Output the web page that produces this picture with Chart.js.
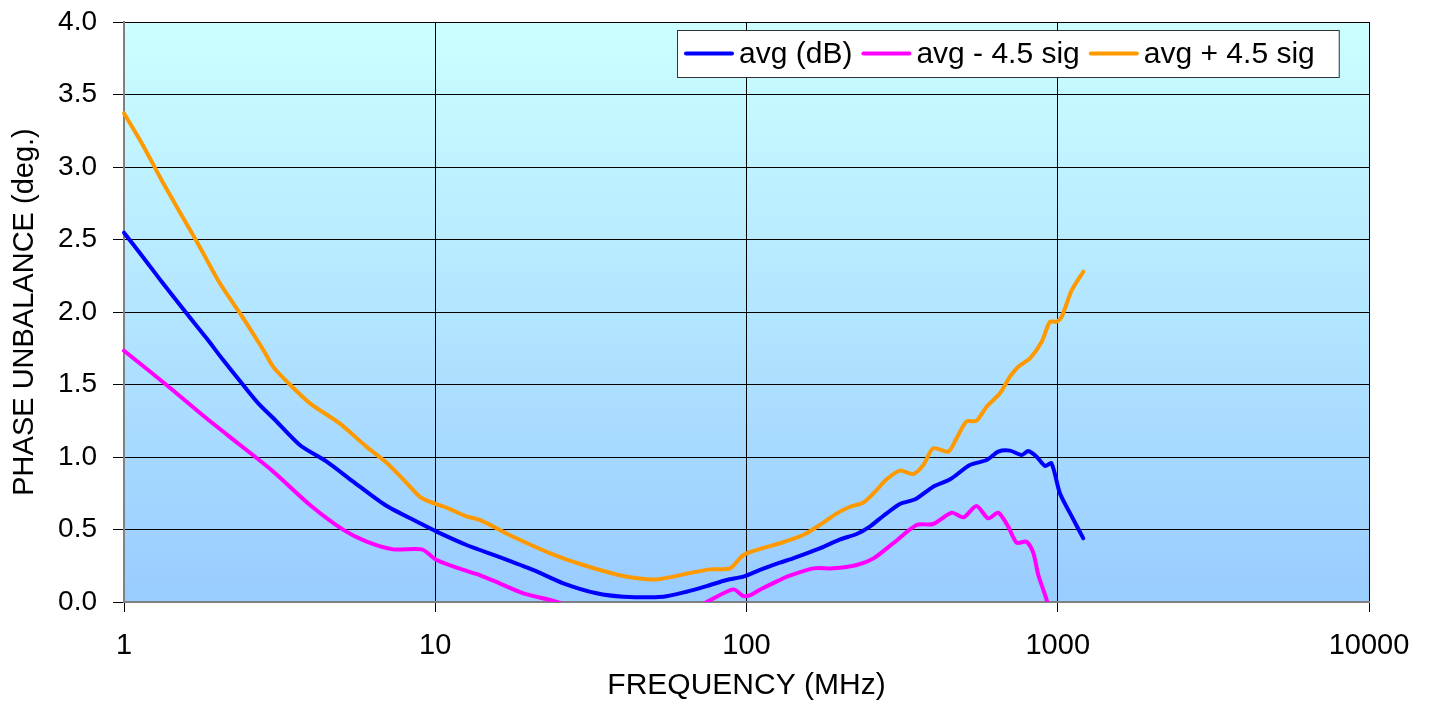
<!DOCTYPE html>
<html>
<head>
<meta charset="utf-8">
<script src="https://cdn.jsdelivr.net/npm/chart.js@4.4.1/dist/chart.umd.min.js"></script>
<style>
  html, body { margin: 0; padding: 0; background: #ffffff; }
  #wrap { width: 1435px; height: 704px; }
</style>
</head>
<body>
<div id="wrap"><canvas id="c" width="1435" height="704"></canvas></div>
<script>
// ---- Data ----
const seriesLabels = ['avg (dB)', 'avg - 4.5 sig', 'avg + 4.5 sig'];
const xTickValues = [1, 10, 100, 1000, 10000];
const yTickValues = [0, 0.5, 1.0, 1.5, 2.0, 2.5, 3.0, 3.5, 4.0];

const avgFreq = [1, 1.15, 1.32, 1.59, 1.84, 2.08, 2.39, 2.70, 3.02, 3.67, 4.48, 5.45, 6.9, 8.93, 10.1, 12.6, 16.1, 20.7, 25.8, 33, 40.2, 54, 64.2, 74.5, 86.4, 97.7, 110, 128, 141, 172, 200, 226, 249, 275, 311, 348, 398, 451, 522, 591, 644, 702, 766, 804, 855, 910, 955, 1016, 1110, 1208];
const avgVals = [2.547, 2.38, 2.21, 1.99, 1.82, 1.67, 1.508, 1.37, 1.267, 1.083, 0.968, 0.83, 0.669, 0.543, 0.485, 0.393, 0.31, 0.22, 0.129, 0.06, 0.037, 0.037, 0.071, 0.11, 0.152, 0.175, 0.22, 0.271, 0.301, 0.37, 0.432, 0.469, 0.52, 0.593, 0.676, 0.708, 0.795, 0.846, 0.945, 0.979, 1.037, 1.044, 1.014, 1.041, 1.002, 0.938, 0.956, 0.75, 0.589, 0.439];

const lowFreq = [1, 1.37, 1.84, 2.36, 3.02, 3.96, 5.07, 6.02, 7.33, 9.06, 10.1, 12.6, 13.9, 16.1, 19.2, 24.6, 33, 45, 60, 74.5, 90.7, 97.7, 103, 110, 128, 135, 164, 190, 226, 256, 296, 352, 398, 456, 498, 548, 598, 644, 693, 738, 794, 834, 866, 899, 921, 940];
const lowVals = [1.733, 1.497, 1.267, 1.083, 0.899, 0.669, 0.497, 0.416, 0.363, 0.363, 0.29, 0.214, 0.186, 0.129, 0.06, 0.0, -0.1, -0.13, -0.1, 0.0, 0.087, 0.041, 0.048, 0.083, 0.152, 0.175, 0.232, 0.232, 0.255, 0.301, 0.405, 0.531, 0.538, 0.616, 0.584, 0.662, 0.577, 0.616, 0.52, 0.409, 0.416, 0.34, 0.186, 0.083, 0.014, -0.1];

const highFreq = [1, 1.15, 1.32, 1.51, 1.75, 2.03, 2.36, 2.8, 3.02, 3.41, 3.96, 4.94, 6.02, 6.98, 8.1, 9.06, 11.0, 12.6, 13.9, 17.8, 23.4, 29.9, 40.2, 51.4, 65.8, 76.3, 88.5, 97.7, 108, 128, 152, 172, 195, 215, 237, 256, 282, 311, 343, 370, 398, 445, 473, 509, 548, 591, 652, 702, 747, 814, 888, 944, 993, 1030, 1110, 1208];
const highVals = [3.37, 3.15, 2.91, 2.69, 2.45, 2.20, 1.99, 1.74, 1.62, 1.50, 1.37, 1.23, 1.07, 0.96, 0.82, 0.715, 0.646, 0.59, 0.566, 0.45, 0.336, 0.255, 0.179, 0.156, 0.20, 0.225, 0.232, 0.324, 0.359, 0.405, 0.462, 0.531, 0.611, 0.657, 0.685, 0.75, 0.846, 0.906, 0.883, 0.945, 1.06, 1.037, 1.129, 1.244, 1.25, 1.347, 1.439, 1.554, 1.623, 1.68, 1.795, 1.933, 1.933, 1.968, 2.152, 2.278];

const seriesColors = ['#0000FF', '#FF00FF', '#FF9900'];

// ---- helpers ----
function pairs(xs, ys) { return xs.map((x, i) => ({ x: x, y: ys[i] })); }
const FONT = "'Liberation Sans', Arial, sans-serif";

const bgPlugin = {
  id: 'bgGradient',
  beforeDraw(chart) {
    const { ctx, chartArea: a } = chart;
    const g = ctx.createLinearGradient(0, a.top, 0, a.bottom);
    g.addColorStop(0, '#CCFFFF');
    g.addColorStop(1, '#99CCFF');
    ctx.save();
    ctx.fillStyle = g;
    ctx.fillRect(a.left, a.top, a.right - a.left, a.bottom - a.top);
    ctx.restore();
  }
};

const legendPlugin = {
  id: 'boxLegend',
  afterDatasetsDraw(chart) {
    const { ctx } = chart;
    ctx.save();
    ctx.font = '30px ' + FONT;
    const boxLeft = 677, boxTop = 30, boxH = 47;
    const lineLen = 46, gapLT = 7, gapItem = 11, padL = 9, padR = 24;
    let x = boxLeft + padL;
    const items = chart.data.datasets.map(ds => {
      const w = ctx.measureText(ds.label).width;
      const it = { x: x, w: w, label: ds.label, color: ds.borderColor };
      x += lineLen + gapLT + w + gapItem;
      return it;
    });
    const boxRight = x - gapItem + padR;
    ctx.fillStyle = '#ffffff';
    ctx.fillRect(boxLeft, boxTop, boxRight - boxLeft, boxH);
    ctx.strokeStyle = '#333333';
    ctx.lineWidth = 1;
    ctx.strokeRect(boxLeft + 0.5, boxTop + 0.5, boxRight - boxLeft, boxH);
    const cy = boxTop + boxH / 2;
    items.forEach(it => {
      ctx.strokeStyle = it.color;
      ctx.lineWidth = 4;
      ctx.lineCap = 'round';
      ctx.beginPath();
      ctx.moveTo(it.x, cy);
      ctx.lineTo(it.x + lineLen, cy);
      ctx.stroke();
      ctx.fillStyle = '#000000';
      ctx.textBaseline = 'middle';
      ctx.textAlign = 'left';
      ctx.fillText(it.label, it.x + lineLen + gapLT, cy + 1);
    });
    ctx.restore();
  }
};

const datasets = [
  { label: seriesLabels[0], data: pairs(avgFreq, avgVals), borderColor: seriesColors[0] },
  { label: seriesLabels[1], data: pairs(lowFreq, lowVals), borderColor: seriesColors[1] },
  { label: seriesLabels[2], data: pairs(highFreq, highVals), borderColor: seriesColors[2] }
].map(d => Object.assign(d, {
  borderWidth: 4,
  pointRadius: 0,
  pointHoverRadius: 0,
  tension: 0.25,
  fill: false,
  borderJoinStyle: 'round',
  borderCapStyle: 'round',
  clip: { left: 5, top: 5, right: 5, bottom: 0 }
}));

new Chart(document.getElementById('c'), {
  type: 'line',
  data: { datasets: datasets },
  plugins: [bgPlugin, legendPlugin],
  options: {
    responsive: false,
    devicePixelRatio: 1,
    animation: false,
    events: [],
    layout: { padding: { left: 0, top: 22, right: 66, bottom: 0 } },
    plugins: { legend: { display: false }, tooltip: { enabled: false } },
    scales: {
      x: {
        type: 'logarithmic',
        min: 1, max: 10000,
        afterBuildTicks(scale) { scale.ticks = xTickValues.map(v => ({ value: v, major: true })); },
        afterFit(scale) { scale.height = 102; scale.paddingLeft = 0; scale.paddingRight = 0; },
        ticks: {
          autoSkip: false, maxRotation: 0, padding: 17,
          color: '#000000',
          font: { family: FONT, size: 29 },
          callback: (v) => String(v)
        },
        grid: { color: '#000000', lineWidth: 1, tickLength: 10, tickColor: '#000000' },
        border: { color: '#808080', width: 2 },
        title: { display: true, text: 'FREQUENCY (MHz)', color: '#000000', font: { family: FONT, size: 30 }, padding: { top: 0, bottom: 0 } }
      },
      y: {
        type: 'linear',
        min: 0, max: 4,
        afterBuildTicks(scale) { scale.ticks = yTickValues.map(v => ({ value: v })); },
        afterFit(scale) { scale.width = 124; scale.paddingTop = 0; scale.paddingBottom = 0; },
        ticks: {
          padding: 16,
          color: '#000000',
          font: { family: FONT, size: 28 },
          callback: (v) => Number(v).toFixed(1)
        },
        grid: { color: '#000000', lineWidth: 1, tickLength: 11, tickColor: '#000000' },
        border: { color: '#808080', width: 2 },
        title: { display: true, text: 'PHASE UNBALANCE (deg.)', color: '#000000', font: { family: FONT, size: 29 }, padding: { top: 8, bottom: 0 } }
      }
    }
  }
});
</script>
</body>
</html>
